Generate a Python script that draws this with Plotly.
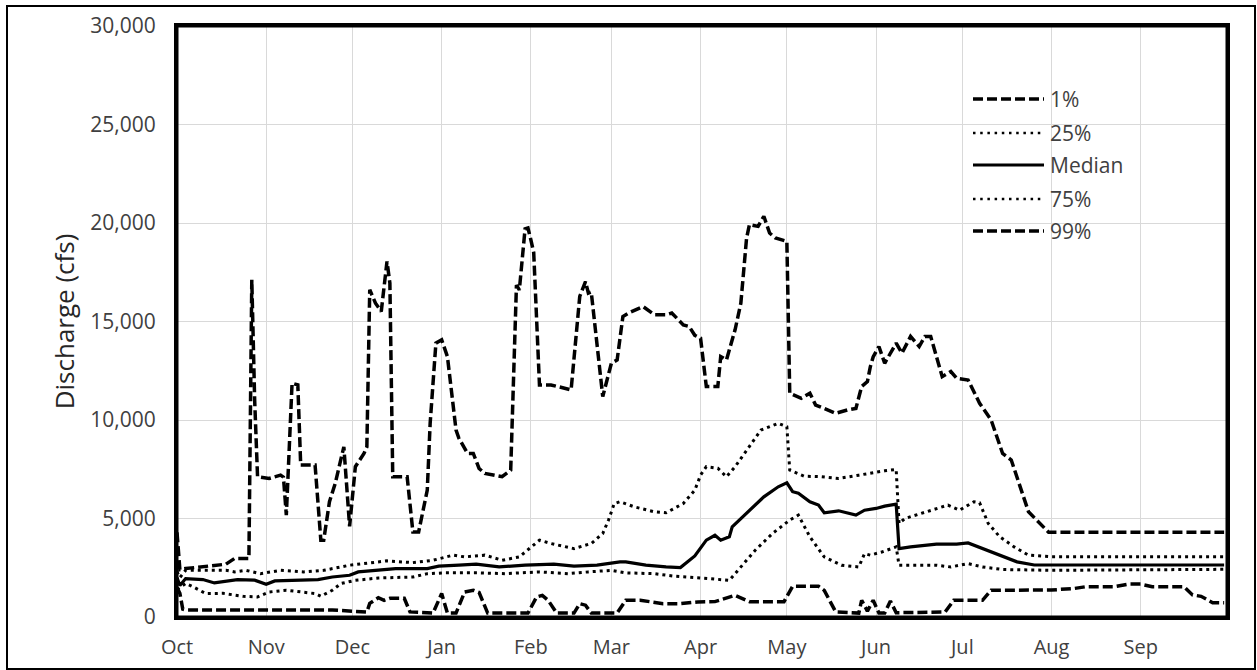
import pandas as pd
import plotly.graph_objects as go

# ---- data (day of water year, starting Oct 1) ----
p99_day = [0, 1, 3, 17, 20, 25, 26, 27, 28, 32, 36, 37, 38, 40, 42, 43, 48, 50, 51, 53, 55, 58, 60,
           62, 65, 66, 67, 69, 71, 73, 74, 75, 80, 82, 84, 87, 88, 90, 92, 94, 97, 98, 101, 103, 105,
           107, 113, 116, 118, 119, 121, 122, 123, 124, 126, 130, 137, 140, 142, 143, 144, 148, 151,
           153, 155, 157, 162, 166, 170, 172, 176, 178, 180, 182, 184, 188, 189, 191, 194, 196, 198,
           199, 202, 204, 206, 208, 212, 213, 217, 220, 222, 226, 229, 233, 236, 238, 240, 241, 242,
           244, 246, 250, 252, 255, 258, 260, 262, 266, 269, 271, 275, 279, 283, 287, 290, 296, 300,
           303, 364]
p99_val = [4300, 2400, 2460, 2680, 2970, 2970, 17120, 11000, 7120, 7030, 7200, 7100, 5170, 11865,
           11780, 7710, 7710, 3900, 3900, 5850, 6780, 8640, 4600,
           7630, 8300, 8640, 16610, 15930, 15510, 18050, 16950, 7120, 7120, 4320, 4320, 6440, 9830,
           13900, 14070, 13220, 9490, 9070, 8300, 8300, 7540,
           7290, 7120, 7460, 16850, 16600, 19700, 19750, 19150, 18500, 11780, 11780, 11530, 16270,
           17030, 16440, 16500, 11190, 12880,
           13050, 15250, 15430, 15760, 15340, 15340, 15430, 14830, 14750, 14300, 14150, 11700, 11700,
           13220, 13050, 14580, 15930, 19240,
           19920, 19830, 20340, 19490, 19240, 19070, 11360, 11100, 11360, 10760, 10510, 10340, 10510,
           10590, 11700, 11950, 12700, 13200,
           13730, 12880, 13900, 13390, 14240, 13730, 14240, 14240, 12200, 12460, 12120, 12030, 10850,
           10000, 8300, 7970, 5340, 4750,
           4300, 4300]

p75_day = [0, 1, 3, 17, 20, 24, 29, 36, 44, 51, 57, 60, 65, 73, 82, 89, 96, 100, 107, 113, 119, 123,
           126, 130, 138, 144, 148, 150, 152, 154, 159, 166, 170, 176, 180, 182, 184, 188, 191, 194,
           199, 203, 209, 212, 213, 218, 224, 230, 237, 243, 246, 250, 251, 253, 262, 268, 272, 277,
           279, 282, 286, 291, 296, 304, 364]
p75_val = [2300, 2000, 2370, 2370, 2290, 2370, 2200, 2370, 2290, 2370, 2540, 2630, 2710, 2850, 2760,
           2880, 3140, 3050, 3140, 2880, 3050, 3560,
           3900, 3730, 3470, 3730, 4240, 4920, 5760, 5850, 5590, 5340, 5290, 5760, 6440, 7200, 7630,
           7550, 7120, 7630,
           8640, 9490, 9830, 9660, 7460, 7150, 7120, 7030, 7200, 7370, 7420, 7490, 4750, 5000, 5420,
           5680, 5420, 5850,
           5800, 4750, 4070, 3560, 3140, 3060, 3060]

p50_day = [0, 1, 3, 9, 13, 16, 21, 27, 31, 34, 42, 49, 54, 60, 63, 71, 76, 87, 91, 98, 104, 112, 121,
           131, 138, 146, 154, 156, 163, 170, 175, 180, 184, 187, 189, 192, 193, 204, 209, 212, 214,
           216, 220, 223, 225, 230, 236, 239, 243, 246, 250, 251, 255, 264, 271, 275, 280, 286, 292,
           298, 364]
p50_val = [2000, 1600, 1950, 1900, 1730, 1780, 1900, 1870, 1660, 1830, 1870, 1900, 2030, 2120, 2290,
           2370, 2460, 2460, 2580, 2630, 2680, 2540, 2630,
           2680, 2580, 2630, 2800, 2800, 2630, 2540, 2510, 3100, 3900, 4150, 3900, 4070, 4580, 6100,
           6610, 6810, 6360,
           6280, 5850, 5680, 5290, 5390, 5170, 5420, 5510, 5630, 5730, 3470, 3560, 3700, 3700, 3760,
           3470, 3140, 2800,
           2640, 2640]

p25_day = [0, 1, 3, 6, 10, 16, 23, 28, 32, 38, 44, 48, 50, 54, 57, 60, 62, 70, 82, 87, 93, 105, 114,
           126, 136, 143, 151, 156, 166, 173, 182, 185, 192, 195, 201, 207, 213, 216, 220, 225, 231,
           237, 239, 241, 245, 250, 251, 264, 269, 275, 280, 287, 304, 364]
p25_val = [1400, 1500, 1700, 1500, 1190, 1200, 1050, 1017, 1270, 1360, 1270, 1190, 1050, 1360, 1700,
           1800, 1860, 1980, 2030, 2200, 2240, 2240, 2200,
           2290, 2200, 2290, 2370, 2240, 2200, 2070, 2000, 1950, 1860, 2370, 3390, 4240, 4920, 5170,
           4070, 3050, 2630,
           2540, 3220, 3140, 3300, 3560, 2630, 2630, 2540, 2710, 2540, 2410, 2370, 2420]

p01_day = [0, 1, 2, 3, 54, 60, 66, 67, 70, 72, 74, 79, 81, 89, 92, 94, 97, 100, 103, 105, 108, 122,
           125, 127, 129, 132, 138, 140, 142, 144, 153, 156, 161, 165, 169, 175, 181, 187, 194, 199,
           211, 214, 223, 225, 229, 237, 238, 240, 242, 244, 246, 248, 250, 267, 270, 280, 283, 304,
           312, 316, 326, 331, 335, 339, 350, 353, 356, 360, 364]
p01_val = [1500, 1200, 400, 360, 355, 300, 250, 690, 980, 850, 950, 950, 260, 200, 1190, 200, 200,
           1270, 1360, 1250, 200, 200,
           1017, 1100, 850, 200, 200, 678, 600, 200, 200, 848, 850, 763, 678, 678, 763, 780, 1100, 780,
           780, 1560, 1560, 1350, 254, 200, 848, 300, 848, 200, 200, 810, 220, 254, 848, 848, 1356, 1370,
           1450, 1540, 1540, 1670, 1670, 1540, 1540, 1120, 1050, 727, 720]

legend_names = ["1%", "25%", "Median", "75%", "99%"]
y_ticks = [0, 5000, 10000, 15000, 20000, 25000, 30000]
month_labels = ["Oct", "Nov", "Dec", "Jan", "Feb", "Mar", "Apr", "May", "Jun", "Jul", "Aug", "Sep"]

base = pd.Timestamp("2018-10-01")
month_starts = pd.date_range(base, periods=12, freq="MS")


def to_dates(days):
    return base + pd.to_timedelta(days, unit="D")


dash_style = "10px,4px"
dot_style = "3px,4px"

series = [
    ("99%", p99_day, p99_val, dict(color="black", width=3.5, dash=dash_style)),
    ("75%", p75_day, p75_val, dict(color="black", width=3, dash=dot_style)),
    ("Median", p50_day, p50_val, dict(color="black", width=3.2)),
    ("25%", p25_day, p25_val, dict(color="black", width=3, dash=dot_style)),
    ("1%", p01_day, p01_val, dict(color="black", width=3.5, dash=dash_style)),
]

fig = go.Figure()
for name, d, v, ln in series:
    fig.add_trace(go.Scatter(x=to_dates(d), y=v, mode="lines", name=name, line=ln,
                             showlegend=False, hoverinfo="x+y+name"))

W, H = 1257, 670
L, R, T, B = 177, 30, 26, 53
pw, ph = W - L - R, H - T - B


def px_x(x):
    return (x - L) / pw


def px_y(y):
    return (H - B - y) / ph


shapes = []
# outer frame
shapes.append(dict(type="rect", xref="paper", yref="paper",
                   x0=px_x(7), x1=px_x(1255), y0=px_y(669), y1=px_y(6),
                   line=dict(color="black", width=2), fillcolor="rgba(0,0,0,0)", layer="above"))
# plot border
shapes.append(dict(type="rect", xref="paper", yref="paper", x0=0, x1=1, y0=0, y1=1,
                   line=dict(color="black", width=3), fillcolor="rgba(0,0,0,0)", layer="above"))

# custom legend
leg_styles = {
    "1%": dict(color="black", width=3.5, dash=dash_style),
    "25%": dict(color="black", width=2.5, dash="2.5px,4.7px"),
    "Median": dict(color="black", width=3.2),
    "75%": dict(color="black", width=2.5, dash="2.5px,4.7px"),
    "99%": dict(color="black", width=3.5, dash=dash_style),
}
leg_y = [99, 133, 165, 199, 231]
annotations = []
for name, yy in zip(legend_names, leg_y):
    shapes.append(dict(type="line", xref="paper", yref="paper",
                       x0=px_x(973), x1=px_x(1044), y0=px_y(yy), y1=px_y(yy),
                       line=leg_styles[name]))
    annotations.append(dict(xref="paper", yref="paper", x=px_x(1048), y=px_y(yy),
                            text=name, showarrow=False, xanchor="left", yanchor="middle",
                            font=dict(family="Open Sans", size=21, color="#404040")))

fig.update_layout(
    width=W, height=H,
    margin=dict(l=L, r=R, t=T, b=B, pad=0, autoexpand=False),
    paper_bgcolor="white", plot_bgcolor="white",
    font=dict(family="Open Sans", size=21, color="#404040"),
    shapes=shapes, annotations=annotations,
    showlegend=False,
)
fig.update_xaxes(
    type="date",
    range=[base, base + pd.Timedelta(days=365)],
    tickvals=month_starts, ticktext=month_labels,
    showgrid=True, gridcolor="#d9d9d9", gridwidth=1,
    showline=True, linecolor="black", linewidth=3, mirror=True,
    ticks="", ticklabelstandoff=10, automargin=False,
    tickfont=dict(family="Open Sans", size=20, color="#404040"),
    zeroline=False,
)
fig.update_yaxes(
    range=[0, 30000], tickvals=y_ticks, tickformat=",",
    showgrid=True, gridcolor="#d9d9d9", gridwidth=1,
    showline=True, linecolor="black", linewidth=3, mirror=True,
    ticks="", ticklabelstandoff=14, automargin=False,
    tickfont=dict(family="Open Sans", size=21, color="#404040"),
    title=dict(text="Discharge (cfs)", standoff=9,
               font=dict(family="Open Sans", size=26, color="#262626")),
    zeroline=False,
)

fig.write_html("out.html", config={"displayModeBar": False},
               post_script="document.body.style.margin='0px';")
